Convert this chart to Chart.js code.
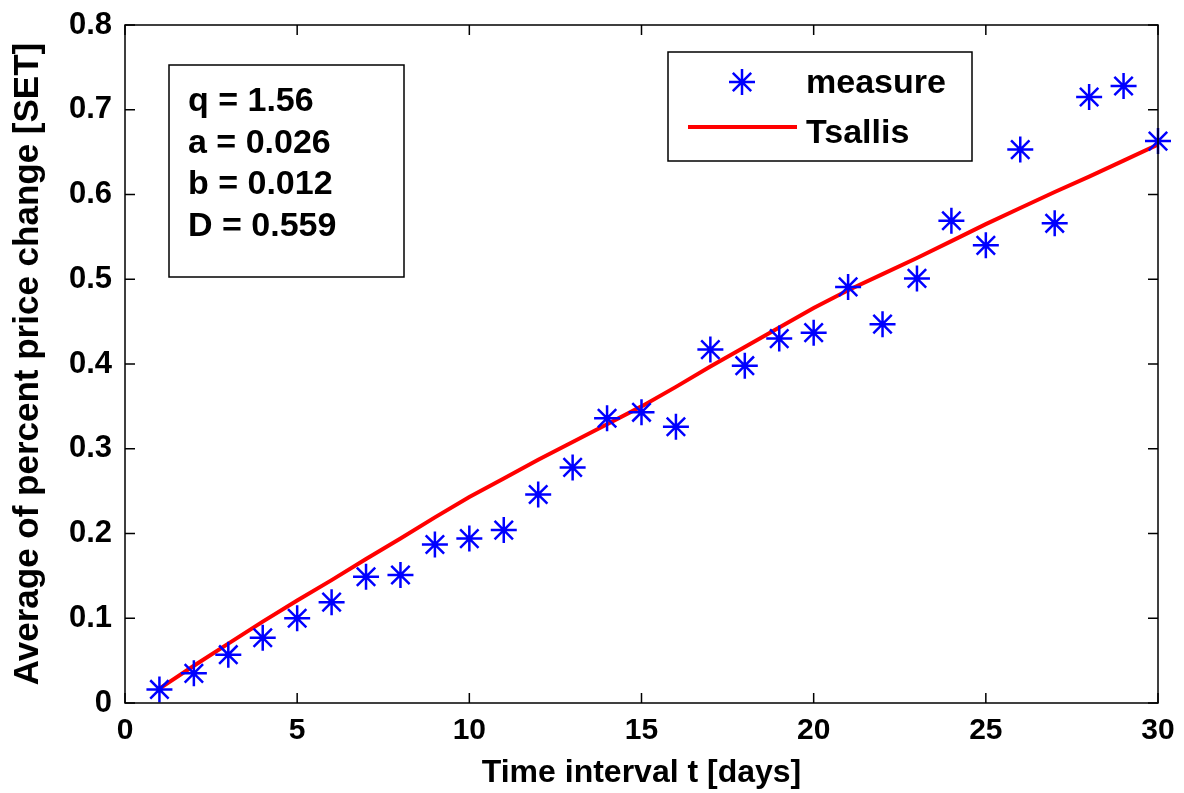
<html>
<head>
	<title>Average of percent price change</title>
	<script type="text/javascript" src="https://cdn.jsdelivr.net/npm/chart.js@4.4.1/dist/chart.umd.min.js"></script>
	<style type="text/css">
	body{
		margin: 0;
		background-color: #fff;
	}
	#box{
		width: 1184px;
		height: 793px;
	}
	</style>
</head>
<body>
	<div id="box">
		<canvas id="chart" width="1184" height="793"></canvas>
	</div>
	<script type="text/javascript">
	// data
	var days = [1,2,3,4,5,6,7,8,9,10,11,12,13,14,15,16,17,18,19,20,21,22,23,24,25,26,27,28,29,30];
	var measure = [0.016,0.035,0.057,0.077,0.100,0.119,0.149,0.151,0.187,0.194,0.204,0.246,0.278,0.336,0.343,0.326,0.417,0.398,0.430,0.437,0.491,0.447,0.501,0.569,0.540,0.653,0.566,0.715,0.728,0.663];
	var tsallis = [0.017,0.044,0.070,0.096,0.121,0.145,0.170,0.194,0.219,0.243,0.265,0.287,0.308,0.329,0.350,0.373,0.397,0.420,0.443,0.466,0.487,0.506,0.525,0.545,0.565,0.584,0.603,0.621,0.640,0.659];
	var xTicks = [0,5,10,15,20,25,30];
	var yTicks = [0,0.1,0.2,0.3,0.4,0.5,0.6,0.7,0.8];
	var params = ["q = 1.56","a = 0.026","b = 0.012","D = 0.559"];

	var fontName = "'Liberation Sans', Arial, sans-serif";

	function pts(ys){
		var out = [];
		for (var i = 0; i < days.length; i++) out.push({x: days[i], y: ys[i]});
		return out;
	}

	// box, inward ticks, parameter box and legend
	var decor = {
		id: 'decor',
		afterDraw: function(chart){
			var ctx = chart.ctx, a = chart.chartArea;
			var sx = chart.scales.x, sy = chart.scales.y;
			ctx.save();
			ctx.strokeStyle = '#000';
			ctx.lineWidth = 1.5;
			ctx.strokeRect(a.left, a.top, a.right - a.left, a.bottom - a.top);
			ctx.beginPath();
			xTicks.forEach(function(v){
				var px = sx.getPixelForValue(v);
				ctx.moveTo(px, a.bottom); ctx.lineTo(px, a.bottom - 10);
				ctx.moveTo(px, a.top); ctx.lineTo(px, a.top + 10);
			});
			yTicks.forEach(function(v){
				var py = sy.getPixelForValue(v);
				ctx.moveTo(a.left, py); ctx.lineTo(a.left + 10, py);
				ctx.moveTo(a.right, py); ctx.lineTo(a.right - 10, py);
			});
			ctx.stroke();

			// parameter box
			ctx.fillStyle = '#fff';
			ctx.fillRect(169, 65, 235, 212);
			ctx.strokeRect(169, 65, 235, 212);
			ctx.fillStyle = '#000';
			ctx.font = 'bold 34px ' + fontName;
			ctx.textBaseline = 'middle';
			ctx.textAlign = 'left';
			params.forEach(function(t, i){
				ctx.fillText(t, 188, 102 + i * 41.5);
			});

			// legend
			ctx.fillStyle = '#fff';
			ctx.fillRect(668, 52, 304, 109);
			ctx.strokeRect(668, 52, 304, 109);
			var ds = chart.data.datasets;
			ctx.fillStyle = '#000';
			ctx.fillText(ds[0].label, 806, 84);
			ctx.fillText(ds[1].label, 806, 134);
			// star sample
			var mx = 742, my = 82, r = 13;
			ctx.strokeStyle = ds[0].borderColor;
			ctx.lineWidth = 2.5;
			ctx.beginPath();
			ctx.moveTo(mx - r, my); ctx.lineTo(mx + r, my);
			ctx.moveTo(mx, my - r); ctx.lineTo(mx, my + r);
			var d = r * 0.707;
			ctx.moveTo(mx - d, my - d); ctx.lineTo(mx + d, my + d);
			ctx.moveTo(mx - d, my + d); ctx.lineTo(mx + d, my - d);
			ctx.stroke();
			// line sample
			ctx.strokeStyle = ds[1].borderColor;
			ctx.lineWidth = 4;
			ctx.beginPath();
			ctx.moveTo(688, 127); ctx.lineTo(797, 127);
			ctx.stroke();
			ctx.restore();
		}
	};

	var canvas = document.getElementById('chart').getContext('2d');
	window.grafico = new Chart(canvas, {
		type: 'scatter',
		data: {
			datasets: [{
				label: 'measure',
				data: pts(measure),
				showLine: false,
				pointStyle: 'star',
				pointRadius: 13,
				pointHoverRadius: 13,
				borderColor: '#0000ff',
				backgroundColor: '#0000ff',
				borderWidth: 2.5,
				clip: false,
				order: 1
			}, {
				label: 'Tsallis',
				data: pts(tsallis),
				showLine: true,
				pointRadius: 0,
				borderColor: '#ff0000',
				backgroundColor: '#ff0000',
				borderWidth: 4,
				tension: 0,
				order: 2
			}]
		},
		options: {
			responsive: false,
			animation: false,
			layout: { padding: { top: 25, right: 26, left: 0, bottom: 0 } },
			plugins: {
				legend: { display: false },
				tooltip: { enabled: false }
			},
			scales: {
				x: {
					type: 'linear',
					min: 0, max: 30,
					afterFit: function(s){ s.height = 90; s.paddingLeft = 0; s.paddingRight = 0; },
					afterBuildTicks: function(s){ s.ticks = xTicks.map(function(v){ return {value: v}; }); },
					grid: { display: false, drawTicks: false },
					border: { display: false },
					ticks: {
						padding: 10,
						color: '#000',
						font: { family: fontName, size: 30, weight: 'bold' },
						maxRotation: 0
					},
					title: {
						display: true,
						text: 'Time interval t [days]',
						color: '#000',
						font: { family: fontName, size: 32, weight: 'bold' },
						padding: { top: 0, bottom: 1 }
					}
				},
				y: {
					type: 'linear',
					min: 0, max: 0.8,
					afterFit: function(s){ s.width = 125; s.paddingTop = 0; s.paddingBottom = 0; },
					afterBuildTicks: function(s){ s.ticks = yTicks.map(function(v){ return {value: v}; }); },
					grid: { display: false, drawTicks: false },
					border: { display: false },
					ticks: {
						padding: 13,
						color: '#000',
						font: { family: fontName, size: 31, weight: 'bold' },
						callback: function(v){ return v === 0 ? '0' : v.toFixed(1); }
					},
					title: {
						display: true,
						text: 'Average of percent price change [SET]',
						color: '#000',
						font: { family: fontName, size: 35, weight: 'bold' },
						padding: { top: 7, bottom: 0 }
					}
				}
			}
		},
		plugins: [decor]
	});
	</script>
</body>
</html>
